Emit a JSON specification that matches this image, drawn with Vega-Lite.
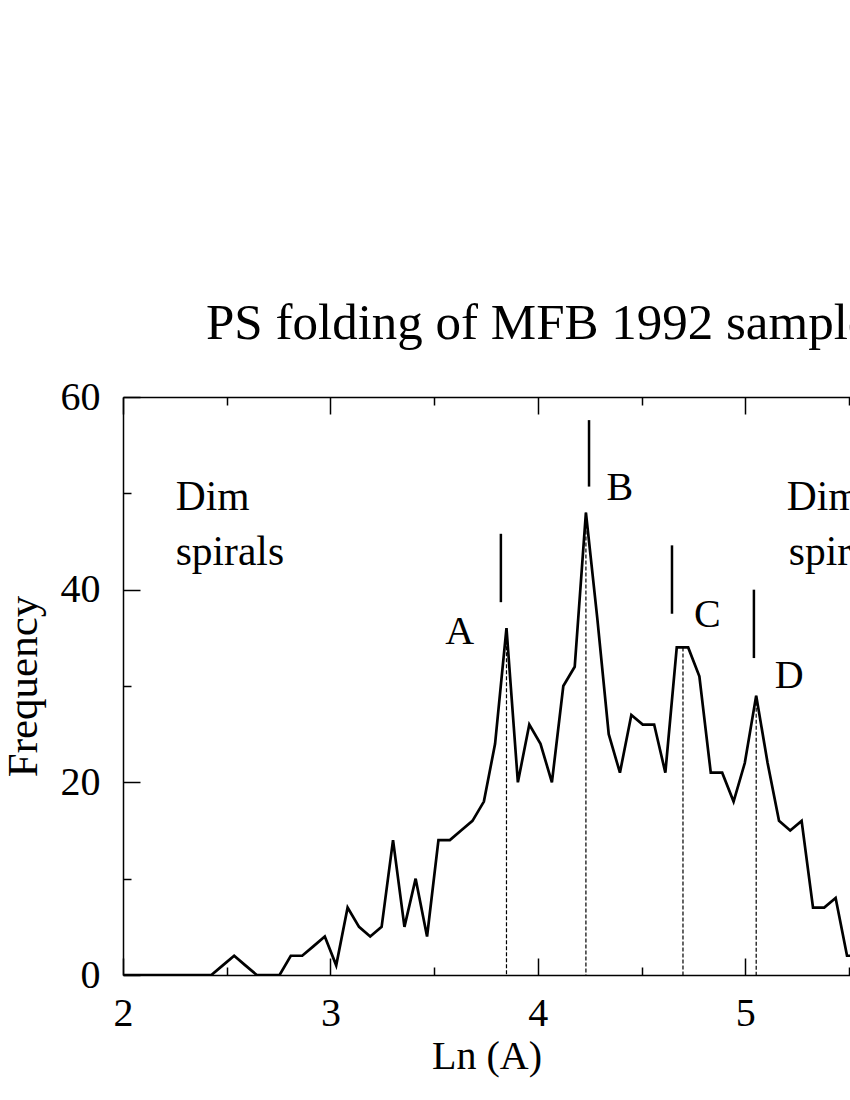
{
  "$schema": "https://vega.github.io/schema/vega-lite/v6.json",
  "width": 727,
  "height": 578,
  "autosize": {"type": "none"},
  "padding": {"left": 123, "top": 397, "right": 0, "bottom": 125},
  "background": "white",
  "title": {
    "text": "PS folding of MFB 1992 sample",
    "font": "Liberation Serif",
    "fontSize": 51,
    "fontWeight": "normal",
    "color": "black",
    "anchor": "start",
    "frame": "group",
    "dx": 83,
    "baseline": "alphabetic",
    "offset": -13
  },
  "config": {
    "view": {"stroke": null},
    "axis": {
      "grid": false,
      "domainColor": "black",
      "domainWidth": 1.5,
      "tickColor": "black",
      "tickWidth": 1.5,
      "labelFont": "Liberation Serif",
      "labelFontSize": 40,
      "labelColor": "black",
      "titleFont": "Liberation Serif",
      "titleFontSize": 40,
      "titleFontWeight": "normal",
      "titleColor": "black"
    }
  },
  "resolve": {"axis": {"x": "independent", "y": "independent"}},
  "datasets": {
    "hist": [
      {"lnA": 2.0, "freq": 0},
      {"lnA": 2.426, "freq": 0},
      {"lnA": 2.481, "freq": 1},
      {"lnA": 2.536, "freq": 2},
      {"lnA": 2.590, "freq": 1},
      {"lnA": 2.645, "freq": 0},
      {"lnA": 2.700, "freq": 0},
      {"lnA": 2.755, "freq": 0},
      {"lnA": 2.809, "freq": 2},
      {"lnA": 2.864, "freq": 2},
      {"lnA": 2.919, "freq": 3},
      {"lnA": 2.973, "freq": 4},
      {"lnA": 3.028, "freq": 1},
      {"lnA": 3.083, "freq": 7},
      {"lnA": 3.138, "freq": 5},
      {"lnA": 3.192, "freq": 4},
      {"lnA": 3.247, "freq": 5},
      {"lnA": 3.302, "freq": 14},
      {"lnA": 3.357, "freq": 5},
      {"lnA": 3.411, "freq": 10},
      {"lnA": 3.466, "freq": 4},
      {"lnA": 3.521, "freq": 14},
      {"lnA": 3.576, "freq": 14},
      {"lnA": 3.630, "freq": 15},
      {"lnA": 3.685, "freq": 16},
      {"lnA": 3.740, "freq": 18},
      {"lnA": 3.794, "freq": 24},
      {"lnA": 3.849, "freq": 36},
      {"lnA": 3.904, "freq": 20},
      {"lnA": 3.959, "freq": 26},
      {"lnA": 4.013, "freq": 24},
      {"lnA": 4.068, "freq": 20},
      {"lnA": 4.123, "freq": 30},
      {"lnA": 4.178, "freq": 32},
      {"lnA": 4.232, "freq": 48},
      {"lnA": 4.287, "freq": 37},
      {"lnA": 4.342, "freq": 25},
      {"lnA": 4.396, "freq": 21},
      {"lnA": 4.451, "freq": 27},
      {"lnA": 4.506, "freq": 26},
      {"lnA": 4.561, "freq": 26},
      {"lnA": 4.615, "freq": 21},
      {"lnA": 4.670, "freq": 34},
      {"lnA": 4.725, "freq": 34},
      {"lnA": 4.779, "freq": 31},
      {"lnA": 4.834, "freq": 21},
      {"lnA": 4.889, "freq": 21},
      {"lnA": 4.944, "freq": 18},
      {"lnA": 4.998, "freq": 22},
      {"lnA": 5.053, "freq": 29},
      {"lnA": 5.108, "freq": 22},
      {"lnA": 5.163, "freq": 16},
      {"lnA": 5.217, "freq": 15},
      {"lnA": 5.272, "freq": 16},
      {"lnA": 5.327, "freq": 7},
      {"lnA": 5.381, "freq": 7},
      {"lnA": 5.436, "freq": 8},
      {"lnA": 5.491, "freq": 2},
      {"lnA": 5.546, "freq": 2},
      {"lnA": 5.600, "freq": 1}
    ],
    "peaks": [
      {"peak": "A", "lnA": 3.849, "freq": 36},
      {"peak": "B", "lnA": 4.232, "freq": 48},
      {"peak": "C", "lnA": 4.700, "freq": 34},
      {"peak": "D", "lnA": 5.053, "freq": 29}
    ],
    "markers": [
      {"peak": "A", "lnA": 3.822, "lo": 38.7, "hi": 45.8},
      {"peak": "B", "lnA": 4.247, "lo": 50.7, "hi": 57.6},
      {"peak": "C", "lnA": 4.647, "lo": 37.5, "hi": 44.6},
      {"peak": "D", "lnA": 5.042, "lo": 32.9, "hi": 40.0}
    ],
    "letters": [
      {"label": "A", "lnA": 3.623, "freq": 34.4},
      {"label": "B", "lnA": 4.395, "freq": 49.3},
      {"label": "C", "lnA": 4.817, "freq": 36.1},
      {"label": "D", "lnA": 5.212, "freq": 29.8}
    ],
    "notes": [
      {"label": "Dim", "lnA": 2.254, "freq": 48.3},
      {"label": "spirals", "lnA": 2.254, "freq": 42.6},
      {"label": "Dim", "lnA": 5.200, "freq": 48.3},
      {"label": "spirals", "lnA": 5.210, "freq": 42.6}
    ]
  },
  "layer": [
    {
      "data": {"name": "hist"},
      "mark": {"type": "line", "color": "black", "strokeWidth": 2.7, "clip": true, "strokeJoin": "miter"},
      "encoding": {
        "x": {
          "field": "lnA", "type": "quantitative",
          "scale": {"domain": [2, 5.5053], "nice": false, "zero": false},
          "axis": {
            "orient": "bottom",
            "title": "Ln (A)",
            "titleY": 93,
            "titleBaseline": "alphabetic",
            "values": [2, 3, 4, 5],
            "format": "d",
            "tickSize": -17,
            "labelPadding": 35,
            "labelBaseline": "top",
            "labelFlush": false,
            "labelOverlap": false
          }
        },
        "y": {
          "field": "freq", "type": "quantitative",
          "scale": {"domain": [0, 60], "nice": false},
          "axis": {
            "orient": "left",
            "title": "Frequency",
            "titleFontSize": 43,
            "titleX": -87,
            "titleY": 289,
            "titleBaseline": "alphabetic",
            "titleAlign": "center",
            "titleAngle": -90,
            "values": [0, 20, 40, 60],
            "tickSize": -17,
            "labelPadding": 40,
            "labelFlush": false,
            "labelOverlap": false
          }
        }
      }
    },
    {
      "data": {"name": "peaks"},
      "mark": {"type": "rule", "color": "black", "strokeWidth": 1.2, "strokeDash": [4, 2]},
      "encoding": {
        "x": {
          "field": "lnA", "type": "quantitative",
          "axis": {
            "orient": "bottom",
            "title": null,
            "labels": false,
            "domain": false,
            "values": [2.5, 3.5, 4.5, 5.5],
            "tickSize": -8
          }
        },
        "y": {
          "field": "freq", "type": "quantitative",
          "axis": {
            "orient": "left",
            "title": null,
            "labels": false,
            "domain": false,
            "values": [10, 30, 50],
            "tickSize": -8
          }
        },
        "y2": {"datum": 0}
      }
    },
    {
      "data": {"name": "markers"},
      "mark": {"type": "rule", "color": "black", "strokeWidth": 2.5},
      "encoding": {
        "x": {
          "field": "lnA", "type": "quantitative",
          "axis": {
            "orient": "top",
            "title": null,
            "labels": false,
            "values": [2, 3, 4, 5],
            "tickSize": -17
          }
        },
        "y": {"field": "lo", "type": "quantitative", "axis": null},
        "y2": {"field": "hi"}
      }
    },
    {
      "data": {"name": "letters"},
      "mark": {"type": "text", "font": "Liberation Serif", "fontSize": 40, "color": "black", "align": "center", "baseline": "alphabetic"},
      "encoding": {
        "x": {
          "field": "lnA", "type": "quantitative",
          "axis": {
            "orient": "top",
            "title": null,
            "labels": false,
            "domain": false,
            "values": [2.5, 3.5, 4.5, 5.5],
            "tickSize": -8
          }
        },
        "y": {"field": "freq", "type": "quantitative", "axis": null},
        "text": {"field": "label"}
      }
    },
    {
      "data": {"name": "notes"},
      "mark": {"type": "text", "font": "Liberation Serif", "fontSize": 41.5, "color": "black", "align": "left", "baseline": "alphabetic"},
      "encoding": {
        "x": {"field": "lnA", "type": "quantitative", "axis": null},
        "y": {"field": "freq", "type": "quantitative", "axis": null},
        "text": {"field": "label"}
      }
    }
  ]
}
